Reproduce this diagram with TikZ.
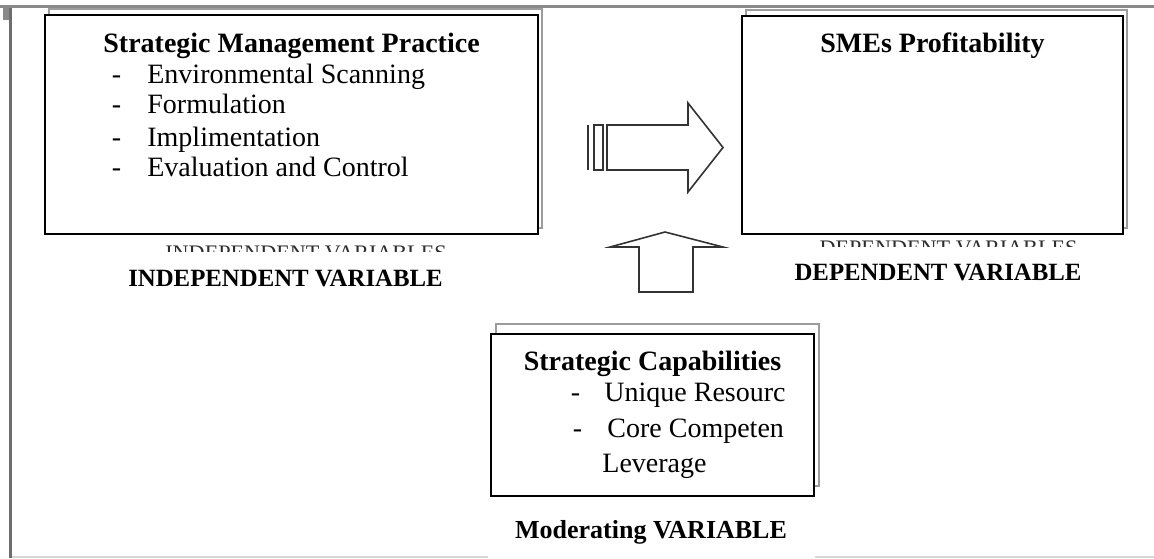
\documentclass[tikz,border=0pt]{standalone}
\usepackage{fontspec}
\setmainfont{Liberation Serif}
\usepackage{tikz}
\usetikzlibrary{positioning,shadows}
\definecolor{framegray}{HTML}{8A8A8A}
\definecolor{rulegray}{HTML}{D6D6D6}
\definecolor{shadegray}{HTML}{9C9C9C}
\definecolor{inkgray}{HTML}{2E2E2E}
\newcommand{\itemdash}[1][17.75pt]{\makebox[#1][l]{-}}

\begin{document}
\begin{tikzpicture}[
        x=0.5pt, y=-0.5pt,
        varbox/.style={
          draw=black,
          line width=1pt,
          fill=white,
          inner sep=0pt
        },
        stacked/.style 2 args={
          general shadow={shadow xshift=#1, shadow yshift=#2, draw=shadegray, fill=white, line width=0.8pt}
        },
        boxtitle/.style={font=\fontsize{14}{16}\selectfont\bfseries, anchor=base, inner sep=0pt},
        boxitem/.style={font=\fontsize{14}{16}\selectfont, anchor=base west, inner sep=0pt},
        varlabel/.style={font=\fontsize{12.4}{14}\selectfont\bfseries, anchor=base, inner sep=0pt},
        cutlabel/.style={font=\fontsize{11.1}{13}\selectfont, text=inkgray, anchor=north, inner sep=0pt},
        blockarrow/.style={draw=black!80, line width=0.8pt, fill=white, line join=miter}
      ]
        \useasboundingbox (0,0) rectangle (1154,558);

        % page frame
        \fill[framegray] (0,4.5) rectangle (1154,8);
        \fill[framegray] (3,4.5) rectangle (10,20);
        \draw[framegray!80!black, line width=1.2pt] (10.5,8) -- (10.5,558);
        \draw[rulegray, line width=0.8pt] (12,557) -- (488,557);
        \draw[rulegray, line width=0.8pt] (815,557) -- (1154,557);

        \node[varbox, stacked={2pt}{3pt}, minimum width=246.5pt, minimum height=109.5pt] (practice) at (291.5,124.5) {};
        \node[varbox, stacked={2pt}{3pt}, minimum width=190.5pt, minimum height=109pt] (profit) at (932.5,125) {};
        \node[varbox, stacked={2.5pt}{5pt}, minimum width=161.5pt, minimum height=81pt] (capab) at (652.5,415) {};

        \node[boxtitle] (practicetitle) at (291.5,52) {Strategic Management Practice};
        \node[boxitem] (scanning) at (111.5,83.4) {\itemdash Environmental Scanning};
        \node[boxitem] (formul) at (111.5,113.5) {\itemdash Formulation};
        \node[boxitem] (implim) at (111.5,146) {\itemdash Implimentation};
        \node[boxitem] (evalctrl) at (111.5,176.5) {\itemdash Evaluation and Control};

        \node[boxtitle] (profittitle) at (932.5,52) {SMEs Profitability};

        \node[boxtitle] (capabtitle) at (652.5,370) {Strategic Capabilities};
        \node[boxitem] (unique) at (570.5,401) {\itemdash[16.75pt]Unique Resourc};
        \node[boxitem] (core) at (572.5,437) {\itemdash[17.25pt]Core Competen};
        \node[boxitem] (leverage) at (602,472) {Leverage};

        \begin{scope}
          \clip (150,244) rectangle (460,251);
          \node[cutlabel] (indepcut) at (306,245) {INDEPENDENT VARIABLES};
        \end{scope}
        \begin{scope}
          \clip (800,240) rectangle (1100,246.5);
          \node[cutlabel] (depcut) at (948.5,240.5) {DEPENDENT VARIABLES};
        \end{scope}

        \node[varlabel] (indeplabel) at (285.5,286) {INDEPENDENT VARIABLE};
        \node[varlabel] (deplabel) at (938,280) {DEPENDENT VARIABLE};
        \node[varlabel, font=\fontsize{13}{15}\selectfont\bfseries] (modlabel) at (651,538) {Moderating VARIABLE};

        % striped block arrow
        \draw[black!80, line width=1.2pt] (588,125) -- (588,170);
        \draw[blockarrow] (594,125) rectangle (603,170);
        \draw[blockarrow] (607,125) -- (688,125) -- (688,103) -- (723,147.5)
          -- (688,192) -- (688,170) -- (607,170) -- cycle;

        % upward block arrow
        \draw[blockarrow] (639,292) -- (639,247) -- (610,247) -- (665,232)
          -- (723,247) -- (693,247) -- (693,292) -- cycle;
      \end{tikzpicture}
\end{document}
